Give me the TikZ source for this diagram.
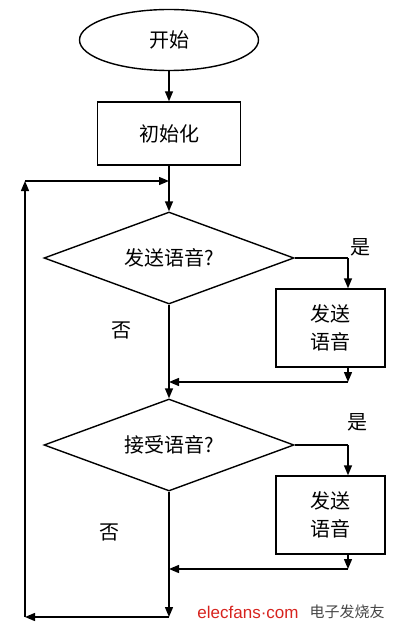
\documentclass[tikz,border=0pt]{standalone}
\usepackage{fontspec}
\usepackage{xcolor}
\newfontfamily\cjk{Noto Sans CJK SC}
\newfontfamily\wmfont{Liberation Sans}
\usetikzlibrary{shapes.geometric,arrows.meta}
\definecolor{wmred}{RGB}{215,35,30}
\definecolor{wmgray}{RGB}{70,70,70}

\begin{document}
\begin{tikzpicture}[x=1pt,y=-1pt,line width=1.4pt,
  every node/.style={font=\cjk\fontsize{20}{28}\selectfont},
  flow/.style={-{Triangle[length=10pt,width=8pt]}},
  startnode/.style={draw,ellipse,inner sep=0pt,minimum width=179pt,minimum height=61pt},
  procbox/.style={draw,rectangle,inner sep=0pt,align=center},
  ask/.style={draw,diamond,aspect=2.7,inner sep=0pt,minimum width=250pt,minimum height=92pt}]
\useasboundingbox (0,0) rectangle (400,631);
\draw (169,40) node[startnode](start) {开始};
\draw (169,133.5) node[procbox,minimum width=143pt,minimum height=63pt](init) {初始化};
\draw (169,258) node[ask](ask1) {发送语音?};
\draw (330.5,328) node[procbox,minimum width=109pt,minimum height=78pt](send1) {发送\\语音};
\draw (169,445) node[ask](ask2) {接受语音?};
\draw (330.5,515) node[procbox,minimum width=109pt,minimum height=78pt](send2) {发送\\语音};
\draw (360,247) node(yes1) {是};
\draw (121,330) node(no1) {否};
\draw (357,422) node(yes2) {是};
\draw (109,532) node(no2) {否};
\coordinate (loopin) at (169,181);
\coordinate (looptop) at (25,181);
\coordinate (loopbot) at (25,617);
\coordinate (mainend) at (169,617);
\coordinate (yes1turn) at (348,258);
\coordinate (back1) at (348,382);
\coordinate (yes2turn) at (348,445);
\coordinate (back2) at (348,569);
\draw[flow] (start) -- (init);
\draw[flow] (init) -- (ask1);
\draw[flow] (looptop) -- (loopin);
\draw (ask1) -- (yes1turn);
\draw[flow] (yes1turn) -- (send1.north -| yes1turn);
\draw[flow] (send1.south -| back1) -- (back1);
\draw[flow] (back1) -- (back1 -| ask1.south);
\draw[flow] (ask1) -- (ask2);
\draw (ask2) -- (yes2turn);
\draw[flow] (yes2turn) -- (send2.north -| yes2turn);
\draw[flow] (send2.south -| back2) -- (back2);
\draw[flow] (back2) -- (back2 -| ask2.south);
\draw[flow] (ask2) -- (mainend);
\draw[flow] (mainend) -- (loopbot);
\draw[flow] (loopbot) -- (looptop);
\draw (248,612) node[font=\wmfont\fontsize{17}{17}\selectfont,text=wmred](brand) {elecfans·com};
\draw (347,612) node[font=\cjk\fontsize{15}{15}\selectfont,text=wmgray](brandcn) {电子发烧友};
\end{tikzpicture}
\end{document}
